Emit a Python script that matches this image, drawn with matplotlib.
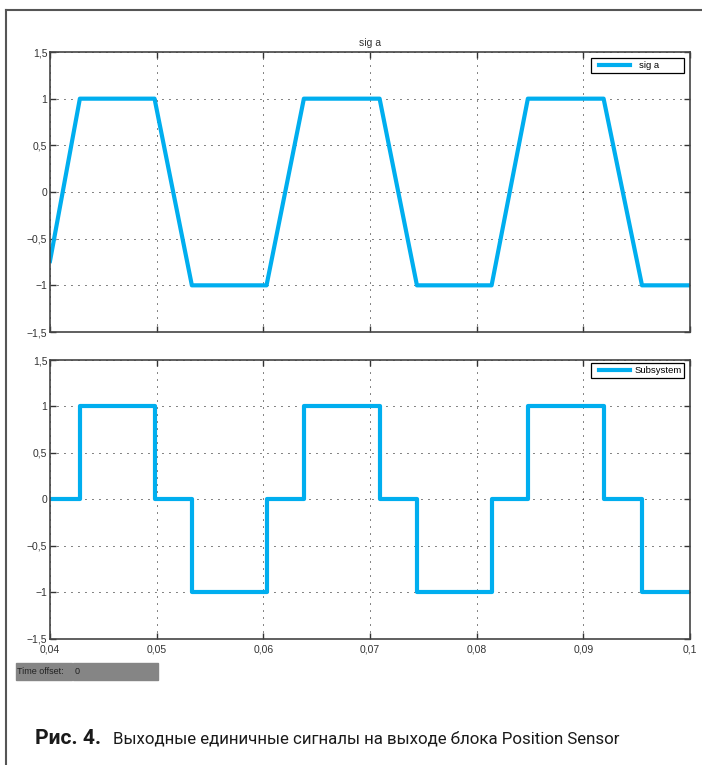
import matplotlib.pyplot as plt
import numpy as np
from matplotlib.lines import Line2D
from matplotlib.patches import Rectangle
from matplotlib.legend_handler import HandlerLine2D
from matplotlib.ticker import FuncFormatter

# переломные точки сигналов (с)
t_knots = [0.04, 0.0428, 0.0498, 0.0533, 0.0603, 0.0638, 0.0709,
           0.0744, 0.0814, 0.0848, 0.0919, 0.0955, 0.1]
# трапецеидальный сигнал sig a в этих точках
sig_a = [-0.74, 1, 1, -1, -1, 1, 1, -1, -1, 1, 1, -1, -1]
# уровни ступенчатого сигнала Subsystem между точками
sub_levels = [0, 1, 0, -1, 0, 1, 0, -1, 0, 1, 0, -1]

x_ticks = [0.04, 0.05, 0.06, 0.07, 0.08, 0.09, 0.1]
y_ticks = [-1.5, -1, -0.5, 0, 0.5, 1, 1.5]

blue = '#00aeef'
plt.rcParams['font.family'] = ['Liberation Sans', 'DejaVu Sans']


def fmt(v, pos):
    s = ('%g' % v).replace('.', ',')
    return s.replace('-', '\u2212')


fig = plt.figure(figsize=(7.02, 7.65), dpi=100)
W, H = 702, 765

ax1 = fig.add_axes([50 / W, 1 - 332 / H, 640 / W, 280 / H])
ax2 = fig.add_axes([50 / W, 1 - 638.5 / H, 640 / W, 278.5 / H])

ax1.plot(t_knots, sig_a, color=blue, lw=3, label='sig a')
# последний уровень держится до конца интервала
ax2.plot(t_knots, sub_levels + sub_levels[-1:], drawstyle='steps-post',
         color=blue, lw=3, label='Subsystem')

# рамки легенд одинаковой ширины, как в окне Scope
leg_boxes = {ax1: (0.845, 0.92, 0.145, 0.0575),
             ax2: (0.845, 0.925, 0.146, 0.064)}
text_pads = {ax1: 0.9, ax2: 0.4}

for ax in (ax1, ax2):
    ax.set_xlim(0.04, 0.1)
    ax.set_ylim(-1.5, 1.5)
    ax.set_xticks(x_ticks)
    ax.set_yticks(y_ticks)
    ax.xaxis.set_major_formatter(FuncFormatter(fmt))
    ax.yaxis.set_major_formatter(FuncFormatter(fmt))
    ax.tick_params(direction='in', length=4, width=1, top=True, right=True,
                   labelsize=7.5, colors='#333333', pad=2)
    ax.tick_params(axis='x', pad=4)
    ax.grid(True, color='black', lw=0.7, linestyle=(0, (1, 6.2)))
    for s in ax.spines.values():
        s.set_color('#444444')
        s.set_linewidth(1.2)
    leg = ax.legend(loc='upper left', bbox_to_anchor=leg_boxes[ax],
                    mode='expand', fontsize=6.8, handlelength=3.9,
                    handletextpad=text_pads[ax], fancybox=False,
                    framealpha=1, borderpad=0.3, borderaxespad=0,
                    handler_map={Line2D: HandlerLine2D(xpad=0.53)})
    leg.get_frame().set_edgecolor('black')
    leg.get_frame().set_linewidth(0.9)

ax1.tick_params(labelbottom=False)
ax1.set_title('sig a', fontsize=7.5, color='#333333', pad=4)

# рамка окна осциллографа
fig.add_artist(Line2D([5.5 / W, 5.5 / W], [0, 1 - 10 / H], color='#555555',
                      lw=1.5, transform=fig.transFigure))
fig.add_artist(Line2D([5.5 / W, 1], [1 - 10 / H, 1 - 10 / H],
                      color='#555555', lw=1.5, transform=fig.transFigure))

# поле Time offset
fig.add_artist(Rectangle((16 / W, 1 - 680 / H), 55.5 / W, 17 / H,
                         color='#858585', transform=fig.transFigure))
fig.add_artist(Rectangle((72.5 / W, 1 - 680 / H), 85 / W, 17 / H,
                         color='#858585', transform=fig.transFigure))
fig.text(17 / W, 1 - 672 / H, 'Time offset:', fontsize=6.5, va='center',
         color='#222222')
fig.text(75 / W, 1 - 672 / H, '0', fontsize=6.5, va='center',
         color='#222222')

# подпись рисунка, кегль подбирается под ширину строки
cap_font = ['Roboto', 'DejaVu Sans']
t_bold = fig.text(35 / W, 1 - 739 / H, 'Рис. 4.', fontsize=13,
                  fontweight='bold', va='center', color='#1a1a1a',
                  family=cap_font)
t_main = fig.text(113 / W, 1 - 739 / H,
                  'Выходные единичные сигналы на выходе блока Position Sensor',
                  fontsize=13, va='center', color='#1a1a1a', family=cap_font)
renderer = fig.canvas.get_renderer()
for txt, width in ((t_bold, 66), (t_main, 508)):
    w = txt.get_window_extent(renderer).width
    txt.set_fontsize(13 * width / w)

fig.savefig('out.png', dpi=100)
